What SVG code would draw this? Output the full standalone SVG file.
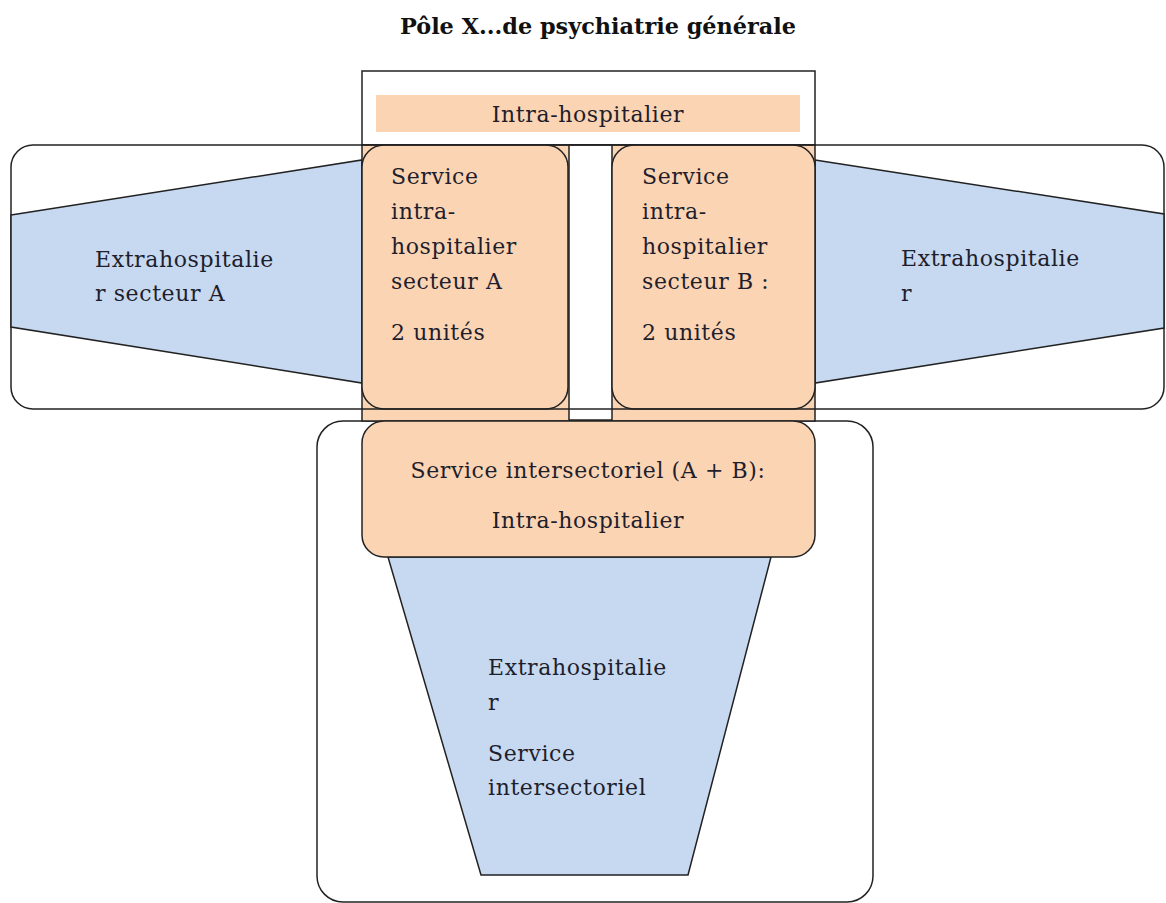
<svg xmlns="http://www.w3.org/2000/svg" width="1166" height="903" viewBox="0 0 1166 903">
<style>
.t{font-family:"DejaVu Serif","Liberation Serif",serif;font-size:22px;letter-spacing:0.6px;fill:#1e1e2c}
.c{text-anchor:middle}
.title{font-family:"DejaVu Serif","Liberation Serif",serif;font-size:22px;font-weight:bold;fill:#111}
.ln{stroke:#222;stroke-width:1.5}
.or{fill:#fbd4b4}
.bl{fill:#c6d9f1}
</style>
<rect width="1166" height="903" fill="#fff"/>
<text class="title c" x="598" y="34" textLength="396" lengthAdjust="spacingAndGlyphs">Pôle X...de psychiatrie générale</text>

<g id="outer-top">
<rect x="11" y="145" width="1153" height="264" rx="22" fill="#fff" class="ln"/>
</g>
<g id="extra-A">
<polygon points="11,215 362,160 362,383 11,327" class="bl ln" stroke-width="1.2"/>
<text class="t" x="95" y="267">Extrahospitalie</text>
<text class="t" x="95" y="301">r secteur A</text>
</g>
<g id="extra-B">
<polygon points="815,160 1164,214 1164,328 815,383" class="bl ln" stroke-width="1.2"/>
<text class="t" x="901" y="266">Extrahospitalie</text>
<text class="t" x="901" y="301">r</text>
</g>

<g id="outer-bottom">
<rect x="317" y="421" width="556" height="481" rx="26" fill="#fff" class="ln"/>
</g>
<g id="extra-intersect">
<polygon points="388,557 771,557 688,875 481,875" class="bl ln" stroke-width="1.2"/>
<text class="t" x="488" y="675">Extrahospitalie</text>
<text class="t" x="488" y="710">r</text>
<text class="t" x="488" y="761">Service</text>
<text class="t" x="488" y="795">intersectoriel</text>
</g>

<g id="intra-top">
<rect x="362" y="71" width="453" height="74" fill="#fff" class="ln"/>
<rect x="376" y="95" width="424" height="37" class="or"/>
<text class="t c" x="588" y="122">Intra-hospitalier</text>
</g>

<g id="intra-band">
<rect x="362" y="145" width="453" height="276" class="or ln" stroke-width="1.2"/>
<rect x="569" y="145" width="43" height="275" fill="#fff" class="ln"/>
</g>

<g id="service-A">
<rect x="362" y="145" width="206" height="264" rx="22" class="or ln"/>
<text class="t" x="391" y="184">Service</text>
<text class="t" x="391" y="219">intra-</text>
<text class="t" x="391" y="254">hospitalier</text>
<text class="t" x="391" y="289">secteur A</text>
<text class="t" x="391" y="340">2 unités</text>
</g>
<g id="service-B">
<rect x="612" y="145" width="203" height="264" rx="22" class="or ln"/>
<text class="t" x="642" y="184">Service</text>
<text class="t" x="642" y="219">intra-</text>
<text class="t" x="642" y="254">hospitalier</text>
<text class="t" x="642" y="289">secteur B :</text>
<text class="t" x="642" y="340">2 unités</text>
</g>
<line x1="362" y1="145" x2="815" y2="145" class="ln" stroke-width="1.2"/>
<line x1="362" y1="409" x2="815" y2="409" class="ln" stroke-width="1.2"/>

<g id="service-intersect">
<rect x="362" y="421" width="453" height="136" rx="22" class="or ln"/>
<text class="t c" x="588" y="478">Service intersectoriel (A + B):</text>
<text class="t c" x="588" y="528">Intra-hospitalier</text>
</g>
<g id="connectors"></g>
</svg>
